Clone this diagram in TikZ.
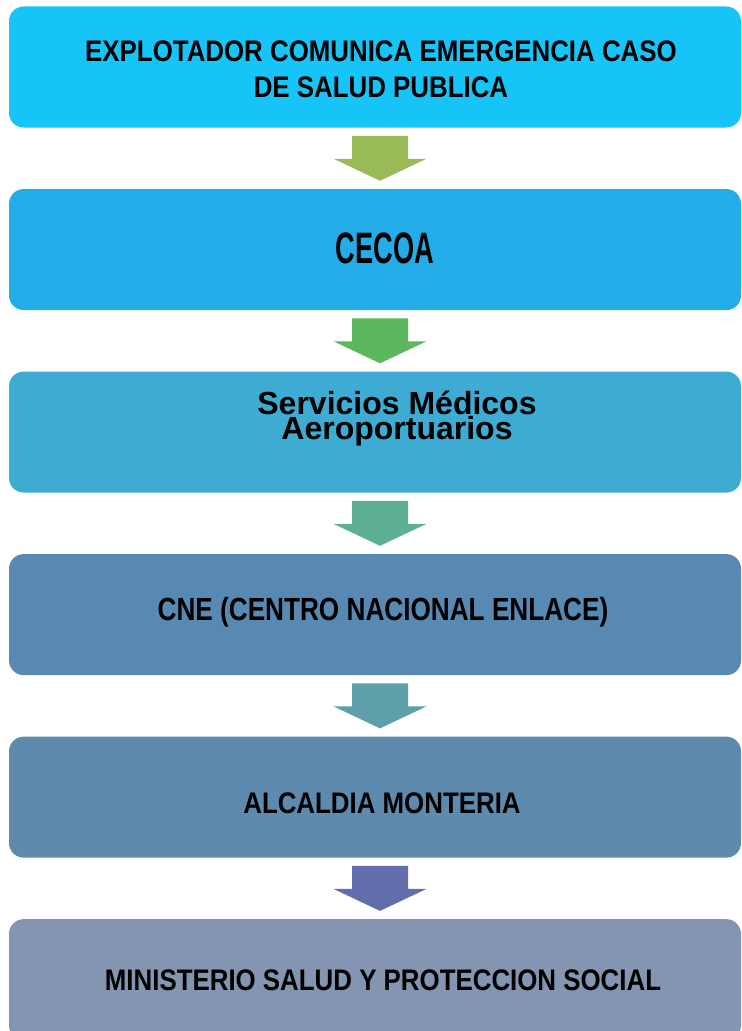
\documentclass[tikz,border=0pt]{standalone}
\usepackage{fontspec}
\setmainfont{Liberation Sans}
\newfontfamily\narrowfont[FakeStretch=0.87]{Liberation Sans}
\usetikzlibrary{positioning,calc}

\definecolor{boxA}{HTML}{17C4F8}
\definecolor{boxB}{HTML}{23ACE8}
\definecolor{boxC}{HTML}{3EABD3}
\definecolor{boxD}{HTML}{5889B3}
\definecolor{boxE}{HTML}{5E8AAE}
\definecolor{boxF}{HTML}{8395B0}
\definecolor{arrA}{HTML}{9BBB59}
\definecolor{arrB}{HTML}{5DB75E}
\definecolor{arrC}{HTML}{5DB092}
\definecolor{arrD}{HTML}{5F9FAA}
\definecolor{arrE}{HTML}{626DAB}

\begin{document}
\begin{tikzpicture}[x=0.75pt, y=-0.75pt, node distance=45.75pt,
	stepbox/.style={rectangle, rounded corners=11pt, minimum width=549pt, minimum height=90.75pt, inner sep=0pt},
	capstxt/.style={inner sep=0pt, align=center, font=\narrowfont\bfseries\fontsize{22.3}{27}\selectfont}]
	\useasboundingbox (0,0) rectangle (742,1031);
	% boxes
	\node[stepbox, fill=boxA] (b1) at (375,67) {};
	\node[stepbox, fill=boxB, below=of b1] (b2) {};
	\node[stepbox, fill=boxC, below=of b2] (b3) {};
	\node[stepbox, fill=boxD, below=of b3] (b4) {};
	\node[stepbox, fill=boxE, below=of b4] (b5) {};
	\node[stepbox, fill=boxF, below=of b5] (b6) {};
	% texts
	\node[capstxt, anchor=north] (t1) at (381,40) {EXPLOTADOR COMUNICA EMERGENCIA CASO\\DE SALUD PUBLICA};
	\node[capstxt, anchor=base, font=\narrowfont\bfseries\fontsize{33}{40}\selectfont] (t2) at (385,263) {\scalebox{0.71}[1]{CECOA}};
	\node[inner sep=0pt, align=center, anchor=north, font=\bfseries\fontsize{24}{17.6}\selectfont] (t3) at (397,391) {Servicios Médicos\\Aeroportuarios};
	\node[capstxt, anchor=base, font=\narrowfont\bfseries\fontsize{24}{29}\selectfont] (t4) at (383,620) {\scalebox{0.94}[1]{CNE (CENTRO NACIONAL ENLACE)}};
	\node[capstxt, anchor=base] (t5) at (382,813) {ALCALDIA MONTERIA};
	\node[capstxt, anchor=base] (t6) at (383,990) {MINISTERIO SALUD Y PROTECCION SOCIAL};
	% block arrows
	\fill[arrA] ($(b1.south)+(-23,8)$) -- ++(56,0) -- ++(0,23) -- ++(18.5,0) -- ($(b2.north)+(5,-8)$) -- ($(b1.south)+(-41.5,31)$) -- ++(18.5,0) -- cycle;
	\fill[arrB] ($(b2.south)+(-23,8)$) -- ++(56,0) -- ++(0,23) -- ++(18.5,0) -- ($(b3.north)+(5,-8)$) -- ($(b2.south)+(-41.5,31)$) -- ++(18.5,0) -- cycle;
	\fill[arrC] ($(b3.south)+(-23,8)$) -- ++(56,0) -- ++(0,23) -- ++(18.5,0) -- ($(b4.north)+(5,-8)$) -- ($(b3.south)+(-41.5,31)$) -- ++(18.5,0) -- cycle;
	\fill[arrD] ($(b4.south)+(-23,8)$) -- ++(56,0) -- ++(0,23) -- ++(18.5,0) -- ($(b5.north)+(5,-8)$) -- ($(b4.south)+(-41.5,31)$) -- ++(18.5,0) -- cycle;
	\fill[arrE] ($(b5.south)+(-23,8)$) -- ++(56,0) -- ++(0,23) -- ++(18.5,0) -- ($(b6.north)+(5,-8)$) -- ($(b5.south)+(-41.5,31)$) -- ++(18.5,0) -- cycle;
\end{tikzpicture}
\end{document}
